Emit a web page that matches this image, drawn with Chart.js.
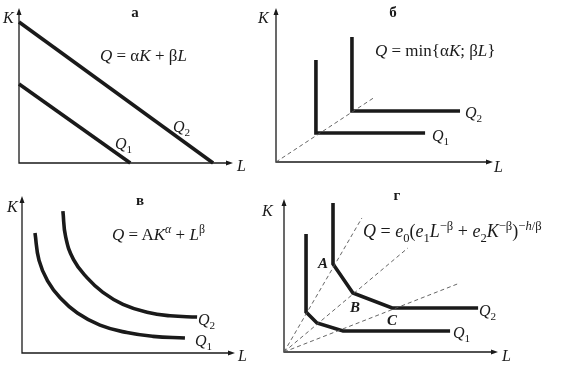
<!DOCTYPE html>
<html>
<head>
<meta charset="utf-8">
<script src="https://cdn.jsdelivr.net/npm/chart.js@4/dist/chart.umd.min.js"></script>
<style>
body{margin:0;background:#fff;}
#fig{position:relative;width:565px;height:369px;overflow:hidden;font-family:"Liberation Serif","Times New Roman",serif;color:#1a1a1a;}
canvas{position:absolute;}
.t{position:absolute;white-space:nowrap;line-height:1;transform:translateY(-50%);font-size:16px;}
.f{font-size:17px;}
.h{font-weight:bold;font-size:15px;transform:translate(-50%,-50%);}
.p{font-weight:bold;font-style:italic;font-size:15px;transform:translate(-50%,-50%);}
sub,sup{font-size:70%;line-height:0;}
</style>
</head>
<body>
<div id="fig">
  <canvas id="ca"></canvas>
  <canvas id="cb"></canvas>
  <canvas id="cc"></canvas>
  <canvas id="cd"></canvas>

  <!-- а -->
  <div class="t h" style="left:135px;top:12px">а</div>
  <div class="t" style="left:3px;top:18px"><i>K</i></div>
  <div class="t" style="left:237px;top:166px"><i>L</i></div>
  <div class="t f" style="left:100px;top:55px"><i>Q</i> = α<i>K</i> + β<i>L</i></div>
  <div class="t" style="left:173px;top:127px"><i>Q</i><sub>2</sub></div>
  <div class="t" style="left:115px;top:144px"><i>Q</i><sub>1</sub></div>

  <!-- б -->
  <div class="t h" style="left:393px;top:12px">б</div>
  <div class="t" style="left:258px;top:18px"><i>K</i></div>
  <div class="t" style="left:494px;top:167px"><i>L</i></div>
  <div class="t f" style="left:375px;top:50px"><i>Q</i> = min{α<i>K</i>; β<i>L</i>}</div>
  <div class="t" style="left:465px;top:113px"><i>Q</i><sub>2</sub></div>
  <div class="t" style="left:432px;top:136px"><i>Q</i><sub>1</sub></div>

  <!-- в -->
  <div class="t h" style="left:140px;top:200px">в</div>
  <div class="t" style="left:7px;top:207px"><i>K</i></div>
  <div class="t" style="left:238px;top:356px"><i>L</i></div>
  <div class="t f" style="left:112px;top:234px"><i>Q</i> = A<i>K</i><sup><i>α</i></sup> + <i>L</i><sup>β</sup></div>
  <div class="t" style="left:198px;top:320px"><i>Q</i><sub>2</sub></div>
  <div class="t" style="left:195px;top:341px"><i>Q</i><sub>1</sub></div>

  <!-- г -->
  <div class="t h" style="left:397px;top:195px">г</div>
  <div class="t" style="left:262px;top:211px"><i>K</i></div>
  <div class="t" style="left:502px;top:356px"><i>L</i></div>
  <div class="t f" style="left:363px;top:231px;font-size:18px"><i>Q</i> = <i>e</i><sub>0</sub>(<i>e</i><sub>1</sub><i>L</i><sup>−β</sup> + <i>e</i><sub>2</sub><i>K</i><sup>−β</sup>)<sup>−<i>h</i>/β</sup></div>
  <div class="t p" style="left:323px;top:263px">A</div>
  <div class="t p" style="left:355px;top:307px">B</div>
  <div class="t p" style="left:392px;top:320px">C</div>
  <div class="t" style="left:479px;top:311px"><i>Q</i><sub>2</sub></div>
  <div class="t" style="left:453px;top:333px"><i>Q</i><sub>1</sub></div>
</div>

<script>
// все величины в условных единицах, оси 0..10

// а — линейная функция
const aQ1 = [[0, 5.1], [5.2, 0]];
const aQ2 = [[0, 9.1], [9.07, 0]];

// б — Леонтьев
const bQ1 = [[1.84, 6.62], [1.84, 1.88], [6.87, 1.88]];
const bQ2 = [[3.5, 8.12], [3.5, 3.31], [8.48, 3.31]];
const bRay = [[0, 0], [4.56, 4.22]];

// в — гладкие изокванты
const cQ1 = [[0.61, 7.64], [0.8, 5.9], [1.2, 4.6], [1.8, 3.5], [2.6, 2.55],
             [3.66, 1.78], [4.93, 1.3], [6.15, 1.06], [7.65, 0.96]];
const cQ2 = [[1.92, 9.04], [2.05, 7.39], [2.42, 5.95], [3.05, 4.8], [3.8, 3.86],
             [4.74, 3.1], [5.87, 2.6], [6.95, 2.37], [8.22, 2.29]];

// г — ломаные изокванты
const dQ1 = [[1.03, 7.71], [1.03, 2.61], [1.54, 1.9], [2.76, 1.37], [7.76, 1.37]];
const dQ2 = [[2.29, 9.74], [2.29, 5.75], [3.22, 3.86], [5.05, 2.88], [9.07, 2.88]];
const dRays = [[3.64, 8.76], [5.79, 6.8], [8.22, 4.51]];

const ink = '#1a1a1a';

function pts(arr) {
    return arr.map(p => ({x: p[0], y: p[1]}));
}

function thick(arr, smooth) {
    return {
        data: pts(arr), showLine: true, pointRadius: 0, clip: false,
        borderColor: ink, borderWidth: 3.6, borderJoinStyle: 'miter', borderCapStyle: 'butt',
        tension: smooth ? 0.45 : 0
    };
}

function dashed(arr) {
    return {
        data: pts(arr), showLine: true, pointRadius: 0, clip: false,
        borderColor: '#555', borderWidth: 0.9, borderDash: [4, 3]
    };
}

// оси со стрелками
const axesPlugin = {
    id: 'axes',
    beforeDatasetsDraw(chart) {
        const {ctx, scales: {x, y}} = chart;
        const x0 = x.getPixelForValue(0), y0 = y.getPixelForValue(0);
        const x1 = x.getPixelForValue(10), y1 = y.getPixelForValue(10);
        ctx.save();
        ctx.strokeStyle = ink;
        ctx.fillStyle = ink;
        ctx.lineWidth = 1.3;
        ctx.beginPath();
        ctx.moveTo(x0, y1 + 4);
        ctx.lineTo(x0, y0);
        ctx.lineTo(x1 - 4, y0);
        ctx.stroke();
        ctx.beginPath();
        ctx.moveTo(x0, y1);
        ctx.lineTo(x0 - 2.5, y1 + 7);
        ctx.lineTo(x0 + 2.5, y1 + 7);
        ctx.closePath();
        ctx.moveTo(x1, y0);
        ctx.lineTo(x1 - 7, y0 - 2.5);
        ctx.lineTo(x1 - 7, y0 + 2.5);
        ctx.closePath();
        ctx.fill();
        ctx.restore();
    }
};

// box: оси на странице [лево, верх, право, низ]; cv: холст [left, top, w, h]
function panel(id, box, cv, datasets) {
    const el = document.getElementById(id);
    el.style.left = cv[0] + 'px';
    el.style.top = cv[1] + 'px';
    el.width = cv[2];
    el.height = cv[3];
    new Chart(el, {
        type: 'scatter',
        data: {datasets: datasets},
        options: {
            responsive: false, animation: false, events: [],
            layout: {padding: {
                left: box[0] - cv[0], top: box[1] - cv[1],
                right: cv[0] + cv[2] - box[2], bottom: cv[1] + cv[3] - box[3]
            }},
            plugins: {legend: {display: false}, tooltip: {enabled: false}},
            scales: {
                x: {type: 'linear', min: 0, max: 10, display: false},
                y: {type: 'linear', min: 0, max: 10, display: false}
            }
        },
        plugins: [axesPlugin]
    });
}

panel('ca', [19, 8, 233, 163], [0, 0, 282, 185], [thick(aQ1), thick(aQ2)]);
panel('cb', [276, 8, 493, 162], [262, 0, 303, 185], [dashed(bRay), thick(bQ1), thick(bQ2)]);
panel('cc', [22, 196, 235, 353], [0, 185, 262, 184], [thick(cQ1, true), thick(cQ2, true)]);
panel('cd', [284, 199, 498, 352], [262, 185, 303, 184],
    dRays.map(r => dashed([[0, 0], r])).concat([thick(dQ1), thick(dQ2)]));
</script>
</body>
</html>
